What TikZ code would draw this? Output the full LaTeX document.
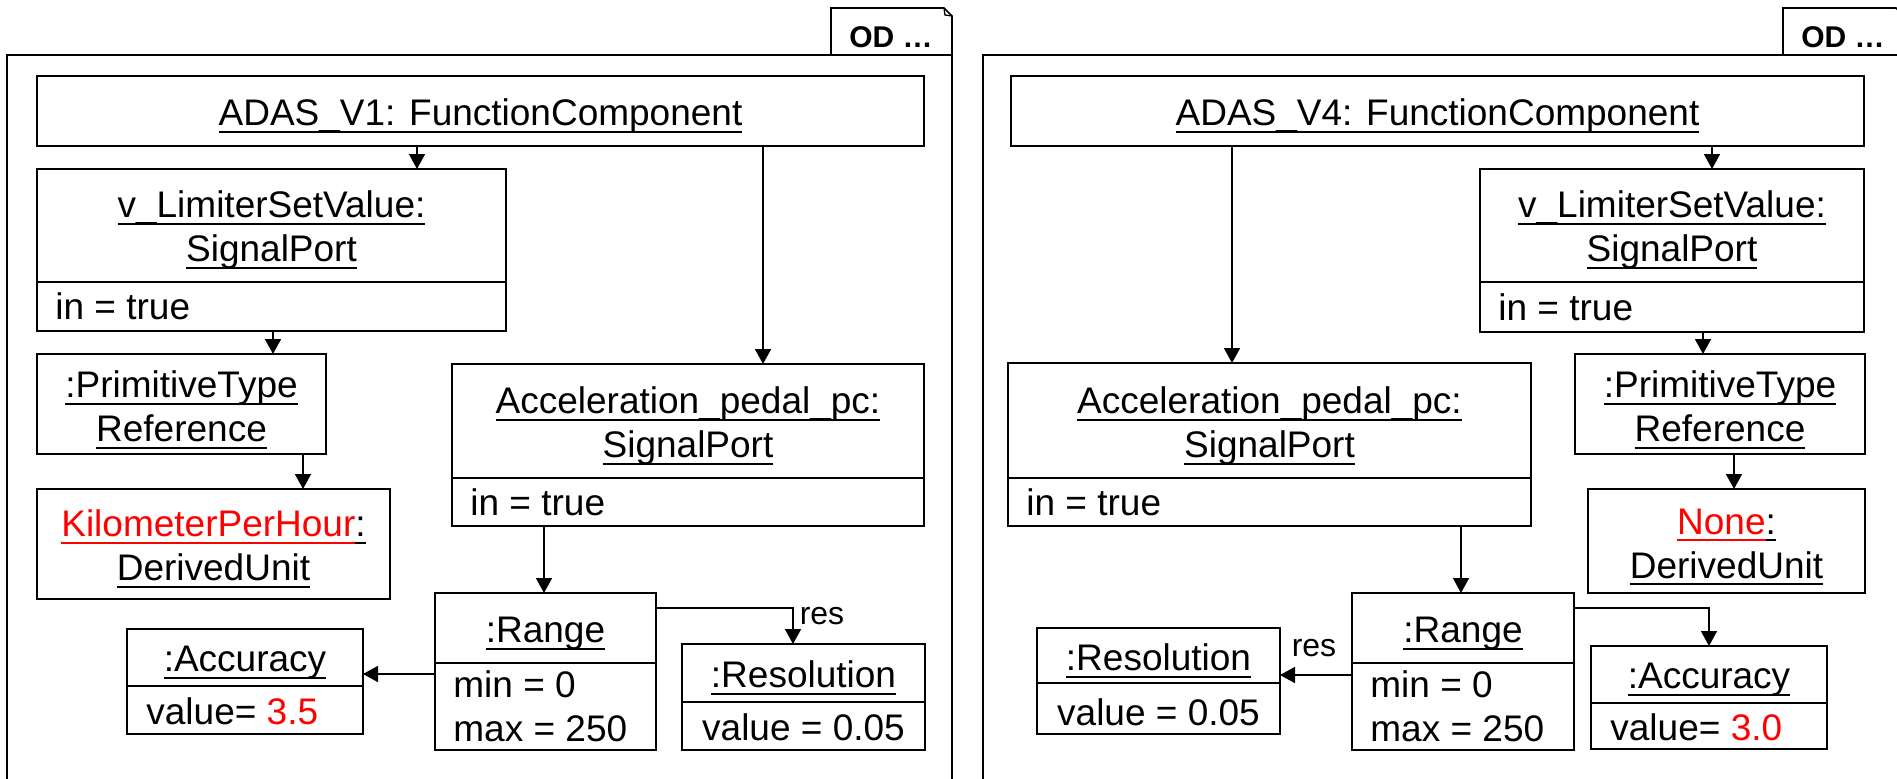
\documentclass[tikz,border=0pt]{standalone}
\usepackage{fontspec}
\setmainfont{Liberation Sans}
\usetikzlibrary{arrows.meta}
\definecolor{hl}{RGB}{255,0,0}
% underline at a fixed depth below the baseline, in the current colour
\newcommand\ulin[1]{\setbox0\hbox{#1}\rlap{\rule[-0.2em]{\wd0}{0.06em}}\box0}
\newcommand\umlfont{\fontsize{18.5}{22}\selectfont}
% object box: name, x1, y1, x2, y2 (pixel units, y downwards)
\newcommand\objbox[5]{\node[objbox, minimum width={(#4-#2)*0.5pt}, minimum height={(#5-#3)*0.5pt}] (#1) at ({(#2+#4)/2},{(#3+#5)/2}) {};}
% compartment divider: x1, x2, y
\newcommand\hdiv[3]{\draw[boxline] (#1,#3) -- (#2,#3);}
\tikzset{
  objbox/.style={draw, line width=0.65pt, inner sep=0pt, outer sep=0pt},
  boxline/.style={line width=0.65pt},
  frameline/.style={line width=0.8pt},
  lbl/.style={inner sep=0pt, align=center, font=\umlfont},
  attr/.style={inner sep=0pt, anchor=west, align=left, font=\umlfont},
  rolelbl/.style={inner sep=0pt, font=\fontsize{16}{18}\selectfont},
  odlbl/.style={inner sep=0pt, font=\fontsize{15}{17}\selectfont\bfseries},
  conn/.style={line width=0.8pt, -{Triangle[length=7.5pt,width=8pt]}},
}
\begin{document}
\begin{tikzpicture}[x=0.5pt,y=-0.5pt]
\useasboundingbox (0,0) rectangle (1897,778);
\clip (0,0) rectangle (1897,778);

% ---------- left diagram frame ----------
\draw[frameline] (7,55) rectangle (952,800);
\draw[frameline] (831,55) -- (831,8) -- (944,8) -- (952,16) -- (952,55);
\draw[boxline] (944,8) -- (945,15) -- (952,16);
\node[odlbl] (od1) at (891,37) {OD …};

\objbox{adas1}{37}{76}{924}{146}
\node[lbl] (adas1t) at (480.5,116) {\ulin{ADAS\_V1: FunctionComponent}};

\objbox{vl1}{37}{169}{506}{331}
\hdiv{37}{506}{282}
\node[lbl] (vl1t) at (271.5,230) {\ulin{v\_LimiterSetValue:}\\\ulin{SignalPort}};
\node[attr] (vl1a) at (55,306.5) {in = true};

\objbox{ptr1}{37}{354}{326}{454}
\node[lbl] (ptr1t) at (181.5,410) {\ulin{:PrimitiveType}\\\ulin{Reference}};

\objbox{kph1}{37}{489}{390}{599}
\node[lbl] (kph1t) at (213.5,549) {{\color{hl}\ulin{KilometerPerHour}}\ulin{:}\\\ulin{DerivedUnit}};

\objbox{acc1}{452}{364}{924}{526}
\hdiv{452}{924}{478}
\node[lbl] (acc1t) at (688,426) {\ulin{Acceleration\_pedal\_pc:}\\\ulin{SignalPort}};
\node[attr] (acc1a) at (470,502) {in = true};

\objbox{rg1}{435}{593}{656}{750}
\hdiv{435}{656}{663}
\node[lbl] (rg1t) at (545.5,634) {\ulin{:Range}};
\node[attr] (rg1a) at (453,706.5) {min = 0\\max = 250};

\objbox{res1}{682}{644}{925}{750}
\hdiv{682}{925}{702}
\node[lbl] (res1t) at (803.5,678) {\ulin{:Resolution}};
\node[lbl] (res1a) at (803.5,727) {value = 0.05};

\objbox{acy1}{127}{629}{363}{734}
\hdiv{127}{363}{686}
\node[lbl] (acy1t) at (245,663) {\ulin{:Accuracy}};
\node[attr] (acy1a) at (146,711) {value= {\color{hl}3.5}};

% connectors
\coordinate (p1) at (417,0);
\coordinate (p2) at (763,0);
\coordinate (p3) at (273,0);
\coordinate (p4) at (303,0);
\coordinate (p5) at (544,0);
\coordinate (p6) at (793,608);
\coordinate (p7) at (0,674);
\draw[conn] (adas1.south -| p1) -- (vl1.north -| p1);
\draw[conn] (adas1.south -| p2) -- (acc1.north -| p2);
\draw[conn] (vl1.south -| p3) -- (ptr1.north -| p3);
\draw[conn] (ptr1.south -| p4) -- (kph1.north -| p4);
\draw[conn] (acc1.south -| p5) -- (rg1.north -| p5);
\draw[conn] (rg1.east |- p6) -| (res1.north -| p6);
\draw[conn] (rg1.west |- p7) -- (acy1.east |- p7);
\node[rolelbl] (role1) at (822,616) {res};

% ---------- right diagram frame ----------
\draw[frameline] (983,55) rectangle (1904,800);
\draw[frameline] (1783,55) -- (1783,8) -- (1896,8) -- (1904,16) -- (1904,55);
\node[odlbl] (od2) at (1843,37) {OD …};

\objbox{adas2}{1011}{76}{1864}{146}
\node[lbl] (adas2t) at (1437.5,116) {\ulin{ADAS\_V4: FunctionComponent}};

\objbox{vl2}{1480}{169}{1864}{332}
\hdiv{1480}{1864}{282}
\node[lbl] (vl2t) at (1672,230) {\ulin{v\_LimiterSetValue:}\\\ulin{SignalPort}};
\node[attr] (vl2a) at (1498,307) {in = true};

\objbox{acc2}{1008}{363}{1531}{526}
\hdiv{1008}{1531}{478}
\node[lbl] (acc2t) at (1269.5,426) {\ulin{Acceleration\_pedal\_pc:}\\\ulin{SignalPort}};
\node[attr] (acc2a) at (1026,502) {in = true};

\objbox{ptr2}{1575}{354}{1865}{454}
\node[lbl] (ptr2t) at (1720,410) {\ulin{:PrimitiveType}\\\ulin{Reference}};

\objbox{non2}{1588}{489}{1865}{593}
\node[lbl] (non2t) at (1726.5,547) {{\color{hl}\ulin{None}}\ulin{:}\\\ulin{DerivedUnit}};

\objbox{rg2}{1352}{593}{1574}{750}
\hdiv{1352}{1574}{663}
\node[lbl] (rg2t) at (1463,634) {\ulin{:Range}};
\node[attr] (rg2a) at (1370,706.5) {min = 0\\max = 250};

\objbox{res2}{1037}{628}{1280}{734}
\hdiv{1037}{1280}{683}
\node[lbl] (res2t) at (1158.5,661) {\ulin{:Resolution}};
\node[lbl] (res2a) at (1158.5,712) {value = 0.05};

\objbox{acy2}{1591}{646}{1827}{749}
\hdiv{1591}{1827}{703}
\node[lbl] (acy2t) at (1709,680) {\ulin{:Accuracy}};
\node[attr] (acy2a) at (1610,727) {value= {\color{hl}3.0}};

% connectors
\coordinate (q1) at (1232,0);
\coordinate (q2) at (1712,0);
\coordinate (q3) at (1703,0);
\coordinate (q4) at (1734,0);
\coordinate (q5) at (1461,0);
\coordinate (q6) at (0,675);
\coordinate (q7) at (1709,608);
\draw[conn] (adas2.south -| q1) -- (acc2.north -| q1);
\draw[conn] (adas2.south -| q2) -- (vl2.north -| q2);
\draw[conn] (vl2.south -| q3) -- (ptr2.north -| q3);
\draw[conn] (ptr2.south -| q4) -- (non2.north -| q4);
\draw[conn] (acc2.south -| q5) -- (rg2.north -| q5);
\draw[conn] (rg2.west |- q6) -- (res2.east |- q6);
\draw[conn] (rg2.east |- q7) -| (acy2.north -| q7);
\node[rolelbl] (role2) at (1314,648) {res};
\end{tikzpicture}
\end{document}
